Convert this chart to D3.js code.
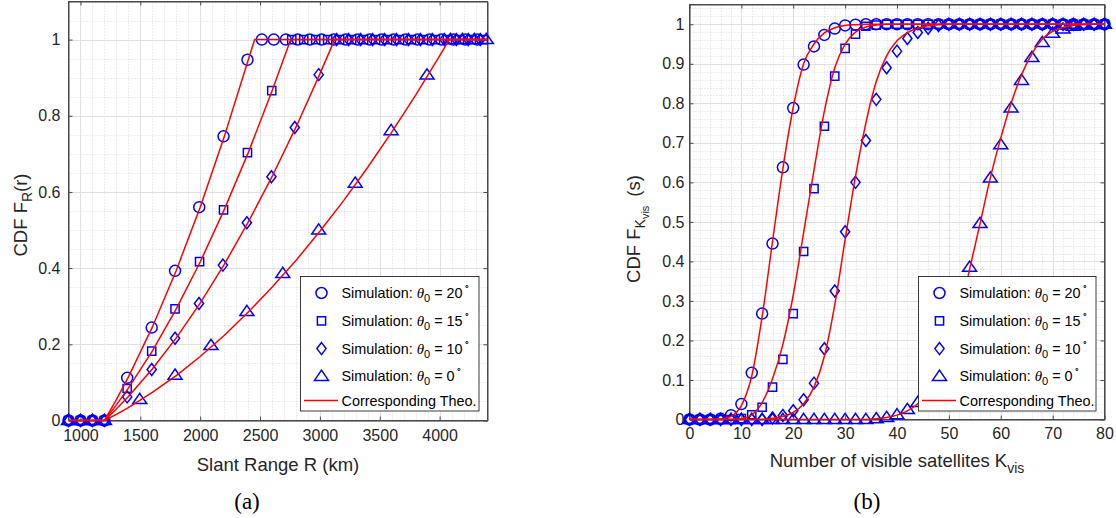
<!DOCTYPE html>
<html>
<head>
<meta charset="utf-8">
<script src="https://cdn.jsdelivr.net/npm/d3@7"></script>
<style>
  body { margin: 0; background: #fff; }
  svg { display: block; font-family: "Liberation Sans", Arial, sans-serif; }
</style>
</head>
<body>
<svg id="chart" width="1116" height="518"></svg>
<script>
// ---- panel (a): slant range CDF ----
const aRangeTicks = [1000, 1500, 2000, 2500, 3000, 3500, 4000];
const aCdfTicks = [0, 0.2, 0.4, 0.6, 0.8, 1];

const aSim20 = [[900,0],[1000,0],[1100,0],[1200,0],[1390,0.112],[1595,0.244],[1790,0.393],[1992,0.56],[2195,0.746],[2395,0.947],
  [2515,1],[2615,1],[2715,1],[2815,1],[2915,1],[3015,1],[3115,1],[3215,1],[3315,1],[3415,1],[3515,1],[3615,1],[3715,1],[3815,1],[3915,1],[4015,1],[4115,1],[4215,1],[4315,1]];
const aSim15 = [[900,0],[1000,0],[1100,0],[1200,0],[1390,0.084],[1595,0.182],[1790,0.293],[1995,0.417],[2195,0.553],[2395,0.703],[2598,0.866],
  [2765,1],[2865,1],[2965,1],[3065,1],[3165,1],[3265,1],[3365,1],[3465,1],[3565,1],[3665,1],[3765,1],[3865,1],[3965,1],[4065,1],[4165,1],[4265,1],[4365,1]];
const aSim10 = [[900,0],[1000,0],[1100,0],[1200,0],[1390,0.062],[1595,0.134],[1790,0.216],[1990,0.307],[2190,0.408],[2390,0.519],[2595,0.64],[2790,0.769],[2990,0.908],
  [3140,1],[3240,1],[3340,1],[3440,1],[3540,1],[3640,1],[3740,1],[3840,1],[3940,1],[4040,1],[4140,1],[4240,1],[4340,1]];
const aSim0 = [[900,0],[1000,0],[1100,0],[1200,0],[1495,0.055],[1790,0.119],[2090,0.197],[2390,0.286],[2690,0.386],[2990,0.5],[3295,0.623],[3595,0.761],[3895,0.907],
  [4090,1],[4190,1],[4290,1],[4390,1]];

const aTheo20 = [[900,0],[1200,0],[1300,0.055],[1400,0.114],[1600,0.245],[1800,0.394],[2000,0.56],[2200,0.744],[2400,0.945],[2455,1],[4400,1]];
const aTheo15 = [[900,0],[1200,0],[1300,0.041],[1400,0.085],[1600,0.182],[1800,0.293],[2000,0.416],[2200,0.553],[2400,0.702],[2600,0.865],[2756,1],[4400,1]];
const aTheo10 = [[900,0],[1200,0],[1300,0.03],[1400,0.063],[1600,0.135],[1800,0.217],[2000,0.308],[2200,0.409],[2400,0.52],[2600,0.64],[2800,0.77],[3000,0.91],[3123,1],[4400,1]];
const aTheo0 = [[900,0],[1200,0],[1300,0.016],[1400,0.034],[1600,0.074],[1800,0.118],[2000,0.168],[2200,0.223],[2400,0.284],[2600,0.35],[2800,0.42],[3000,0.497],[3200,0.578],[3400,0.665],[3600,0.757],[3800,0.854],[4000,0.957],[4081,1],[4400,1]];

// ---- panel (b): number of visible satellites CDF ----
const bCountTicks = [0, 10, 20, 30, 40, 50, 60, 70, 80];
const bCdfTicks = [0, 0.1, 0.2, 0.3, 0.4, 0.5, 0.6, 0.7, 0.8, 0.9, 1];

const bK = [0,2,4,6,8,10,12,14,16,18,20,22,24,26,28,30,32,34,36,38,40,42,44,46,48,50,52,54,56,58,60,62,64,66,68,70,72,74,76,78,80];
const bSim20 = [0,0,0,0.002,0.011,0.039,0.118,0.268,0.445,0.638,0.788,0.898,0.944,0.973,0.989,0.997,0.999,1,
  1,1,1,1,1,1,1,1,1,1,1,1,1,1,1,1,1,1,1,1,1,1,1];
const bTheo20 = [0,0,0,0.001,0.008,0.035,0.11,0.26,0.45,0.635,0.79,0.9,0.95,0.978,0.991,0.997,0.999,1,
  1,1,1,1,1,1,1,1,1,1,1,1,1,1,1,1,1,1,1,1,1,1,1];
const bSim15 = [0,0,0,0,0,0.002,0.012,0.031,0.082,0.152,0.268,0.425,0.584,0.742,0.869,0.939,0.975,0.995,0.998,
  1,1,1,1,1,1,1,1,1,1,1,1,1,1,1,1,1,1,1,1,1,1];
const bTheo15 = [0,0,0,0,0,0.002,0.012,0.043,0.103,0.19,0.315,0.473,0.631,0.78,0.89,0.95,0.98,0.993,0.998,
  1,1,1,1,1,1,1,1,1,1,1,1,1,1,1,1,1,1,1,1,1,1];
const bSim10 = [0,0,0,0,0,0,0,0,0.004,0.01,0.022,0.05,0.092,0.179,0.325,0.475,0.6,0.706,0.81,0.89,0.932,0.964,0.979,0.99,0.997,
  1,1,1,1,1,1,1,1,1,1,1,1,1,1,1,1];
const bTheo10 = [0,0,0,0,0,0,0,0,0.003,0.008,0.018,0.04,0.082,0.16,0.29,0.455,0.615,0.75,0.855,0.92,0.958,0.979,0.99,0.996,0.999,
  1,1,1,1,1,1,1,1,1,1,1,1,1,1,1,1];
const bSim0 = [0,0,0,0,0,0,0,0,0,0,0,0,0,0,0,0,0,0,
  0.002,0.005,0.012,0.025,0.043,0.075,0.12,0.19,0.275,0.385,0.496,0.611,0.695,0.788,0.858,0.916,0.954,0.977,0.988,0.995,0.998,0.999,1];
const bTheo0 = [0,0,0,0,0,0,0,0,0,0,0,0,0,0,0,0,0,0,
  0.002,0.005,0.011,0.022,0.04,0.073,0.12,0.185,0.27,0.38,0.495,0.612,0.712,0.8,0.872,0.925,0.962,0.982,0.992,0.997,0.999,1,1];

const thetaLabels = ['20', '15', '10', '0'];
const shapes = ['circle', 'square', 'diamond', 'triangle'];

const BLUE = '#0000ff', RED = '#ff0000';
const svg = d3.select('#chart');

function markerPath(shape) {
  if (shape === 'circle') return d3.arc()({ innerRadius: 0, outerRadius: 5.5, startAngle: 0, endAngle: 2 * Math.PI });
  if (shape === 'square') return 'M-4.1,-4.1H4.1V4.1H-4.1Z';
  if (shape === 'diamond') return 'M0,-6L4.6,0L0,6L-4.6,0Z';
  return 'M0,-6.2L7,4H-7Z';
}

function drawMarkers(g, pts, shape) {
  g.selectAll(null).data(pts).enter().append('path')
    .attr('d', markerPath(shape))
    .attr('transform', d => `translate(${d[0]},${d[1]})`)
    .attr('fill', 'none')
    .attr('stroke', BLUE)
    .attr('stroke-width', 1.5);
}

function drawPanel(p) {
  const x = d3.scaleLinear().domain(p.xDomain).range([p.left, p.right]);
  const y = d3.scaleLinear().domain(p.yDomain).range([p.bottom, p.top]);
  const g = svg.append('g');

  // minor grid
  const xMinor = d3.range(p.xDomain[0], p.xDomain[1] + 1e-9, p.xMinor).filter(v => !p.xTicks.some(t => Math.abs(t - v) < 1e-6));
  const yMinor = d3.range(p.yDomain[0], p.yDomain[1] + 1e-9, p.yMinor).filter(v => !p.yTicks.some(t => Math.abs(t - v) < 1e-6));
  g.selectAll(null).data(xMinor).enter().append('line')
    .attr('x1', d => Math.round(x(d)) + 0.5).attr('x2', d => Math.round(x(d)) + 0.5)
    .attr('y1', p.top).attr('y2', p.bottom)
    .attr('stroke', '#cfcfcf').attr('stroke-width', 0.8).attr('stroke-dasharray', '1,2');
  g.selectAll(null).data(yMinor).enter().append('line')
    .attr('y1', d => Math.round(y(d)) + 0.5).attr('y2', d => Math.round(y(d)) + 0.5)
    .attr('x1', p.left).attr('x2', p.right)
    .attr('stroke', '#cfcfcf').attr('stroke-width', 0.8).attr('stroke-dasharray', '1,2');

  // major grid
  g.selectAll(null).data(p.xTicks).enter().append('line')
    .attr('x1', d => Math.round(x(d)) + 0.5).attr('x2', d => Math.round(x(d)) + 0.5)
    .attr('y1', p.top).attr('y2', p.bottom)
    .attr('stroke', '#e0e0e0').attr('stroke-width', 1);
  g.selectAll(null).data(p.yTicks).enter().append('line')
    .attr('y1', d => Math.round(y(d)) + 0.5).attr('y2', d => Math.round(y(d)) + 0.5)
    .attr('x1', p.left).attr('x2', p.right)
    .attr('stroke', '#e0e0e0').attr('stroke-width', 1);

  // axes with inward ticks on all four sides
  const tk = 4;
  const axB = g.append('g').attr('transform', `translate(0,${p.bottom})`)
    .call(d3.axisBottom(x).tickValues(p.xTicks).tickSizeInner(-tk).tickSizeOuter(0).tickPadding(p.xPad).tickFormat(d => String(d)));
  const axT = g.append('g').attr('transform', `translate(0,${p.top})`)
    .call(d3.axisTop(x).tickValues(p.xTicks).tickSizeInner(-tk).tickSizeOuter(0).tickFormat(''));
  const axL = g.append('g').attr('transform', `translate(${p.left},0)`)
    .call(d3.axisLeft(y).tickValues(p.yTicks).tickSizeInner(-tk).tickSizeOuter(0).tickPadding(p.yPad).tickFormat(d => String(d)));
  const axR = g.append('g').attr('transform', `translate(${p.right},0)`)
    .call(d3.axisRight(y).tickValues(p.yTicks).tickSizeInner(-tk).tickSizeOuter(0).tickFormat(''));
  [axB, axT, axL, axR].forEach(a => {
    a.select('.domain').attr('stroke', '#4a4a4a');
    a.selectAll('.tick line').attr('stroke', '#4a4a4a');
    a.selectAll('.tick text').attr('fill', '#262626').attr('font-size', '16px')
      .attr('font-family', '"Liberation Sans", Arial, sans-serif');
  });
  g.append('rect').attr('x', p.left).attr('y', p.top)
    .attr('width', p.right - p.left).attr('height', p.bottom - p.top)
    .attr('fill', 'none').attr('stroke', '#4a4a4a').attr('stroke-width', 1);

  // simulation markers
  p.sims.forEach((pts, i) => drawMarkers(g, pts.map(d => [x(d[0]), y(d[1])]), shapes[i]));

  // theory lines
  const clipId = 'clip' + p.id;
  svg.append('clipPath').attr('id', clipId).append('rect')
    .attr('x', p.left).attr('y', p.top).attr('width', p.right - p.left).attr('height', p.bottom - p.top + 1);
  const line = d3.line().x(d => x(d[0])).y(d => y(d[1])).curve(p.curve);
  p.theos.forEach(pts => {
    g.append('path').datum(pts).attr('d', line)
      .attr('fill', 'none').attr('stroke', RED).attr('stroke-width', 1.5)
      .attr('clip-path', `url(#${clipId})`);
  });

  // legend
  const L = p.legend;
  const lg = g.append('g');
  lg.append('rect').attr('x', L.x).attr('y', L.y).attr('width', L.w).attr('height', L.h)
    .attr('fill', '#fff').attr('stroke', '#262626').attr('stroke-width', 0.9);
  const rows = [L.y + 16.5, L.y + 44.3, L.y + 72.1, L.y + 99.9];
  thetaLabels.forEach((th, i) => {
    const ry = rows[i];
    lg.append('path').attr('d', markerPath(shapes[i])).attr('transform', `translate(${L.x + 21},${ry})`)
      .attr('fill', 'none').attr('stroke', BLUE).attr('stroke-width', 1.5);
    const t = lg.append('text').attr('x', L.x + 41).attr('y', ry + 5).attr('font-size', '14.4px').attr('fill', '#000');
    t.append('tspan').text('Simulation: ');
    t.append('tspan').attr('font-family', '"Liberation Serif", "Times New Roman", serif').attr('font-style', 'italic').attr('font-size', '15px').text('θ');
    t.append('tspan').attr('font-size', '11px').attr('dy', 4).text('0');
    t.append('tspan').attr('dy', -4).text(' = ' + th);
    t.append('tspan').attr('font-size', '9px').attr('dy', -8).attr('dx', 1.5).text('∘');
  });
  const ly = L.y + 124;
  lg.append('line').attr('x1', L.x + 3.5).attr('x2', L.x + 37.5).attr('y1', ly).attr('y2', ly)
    .attr('stroke', RED).attr('stroke-width', 1.5);
  lg.append('text').attr('x', L.x + 41).attr('y', ly + 5).attr('font-size', '14.4px').attr('fill', '#000')
    .text('Corresponding Theo.');

  // axis labels
  const xl = g.append('text').attr('x', (p.left + p.right) / 2).attr('y', p.xLabelY)
    .attr('text-anchor', 'middle').attr('font-size', '18.5px').attr('fill', '#262626');
  p.xLabel(xl);
  const yl = g.append('text').attr('transform', `translate(${p.yLabelX},${p.yLabelY}) rotate(-90)`)
    .attr('text-anchor', 'middle').attr('font-size', '18.5px').attr('fill', '#262626');
  p.yLabel(yl);

  g.append('text').attr('x', p.capX).attr('y', 509).attr('text-anchor', 'middle')
    .attr('font-family', '"Liberation Serif", "Times New Roman", serif').attr('font-size', '23px').attr('fill', '#000')
    .text(p.caption);
}

drawPanel({
  id: 'a', left: 68.5, right: 487.5, top: 1.5, bottom: 420.5,
  xDomain: [900, 4400], yDomain: [0, 1.1],
  xTicks: aRangeTicks, yTicks: aCdfTicks, xMinor: 100, yMinor: 0.05,
  xPad: 9, yPad: 8,
  sims: [aSim20, aSim15, aSim10, aSim0],
  theos: [aTheo20, aTheo15, aTheo10, aTheo0],
  curve: d3.curveLinear,
  legend: { x: 300.5, y: 276.5, w: 178.5, h: 134.5 },
  xLabelY: 471,
  xLabel: t => t.text('Slant Range R (km)'),
  yLabelX: 27, yLabelY: 215,
  yLabel: t => {
    t.append('tspan').text('CDF F');
    t.append('tspan').attr('font-size', '14px').attr('dy', 5).text('R');
    t.append('tspan').attr('dy', -5).text('(r)');
  },
  capX: 247, caption: '(a)'
});

const zip = vals => bK.map((k, i) => [k, vals[i]]);
drawPanel({
  id: 'b', left: 689.5, right: 1104.5, top: 4.5, bottom: 419.5,
  xDomain: [0, 80], yDomain: [0, 1.05],
  xTicks: bCountTicks, yTicks: bCdfTicks, xMinor: 2, yMinor: 0.02,
  xPad: 8, yPad: 5,
  sims: [zip(bSim20), zip(bSim15), zip(bSim10), zip(bSim0)],
  theos: [zip(bTheo20), zip(bTheo15), zip(bTheo10), zip(bTheo0)],
  curve: d3.curveMonotoneX,
  legend: { x: 918.5, y: 276.5, w: 177.5, h: 134.5 },
  xLabelY: 467,
  xLabel: t => {
    t.append('tspan').text('Number of visible satellites K');
    t.append('tspan').attr('font-size', '14px').attr('dy', 6).text('vis');
  },
  yLabelX: 640, yLabelY: 229,
  yLabel: t => {
    t.append('tspan').text('CDF F');
    t.append('tspan').attr('font-size', '14px').attr('dy', 5).text('K');
    t.append('tspan').attr('font-size', '11px').attr('dy', 4).text('vis');
    t.append('tspan').attr('dy', -9).attr('dx', 9).text('(s)');
  },
  capX: 867, caption: '(b)'
});
</script>
</body>
</html>
